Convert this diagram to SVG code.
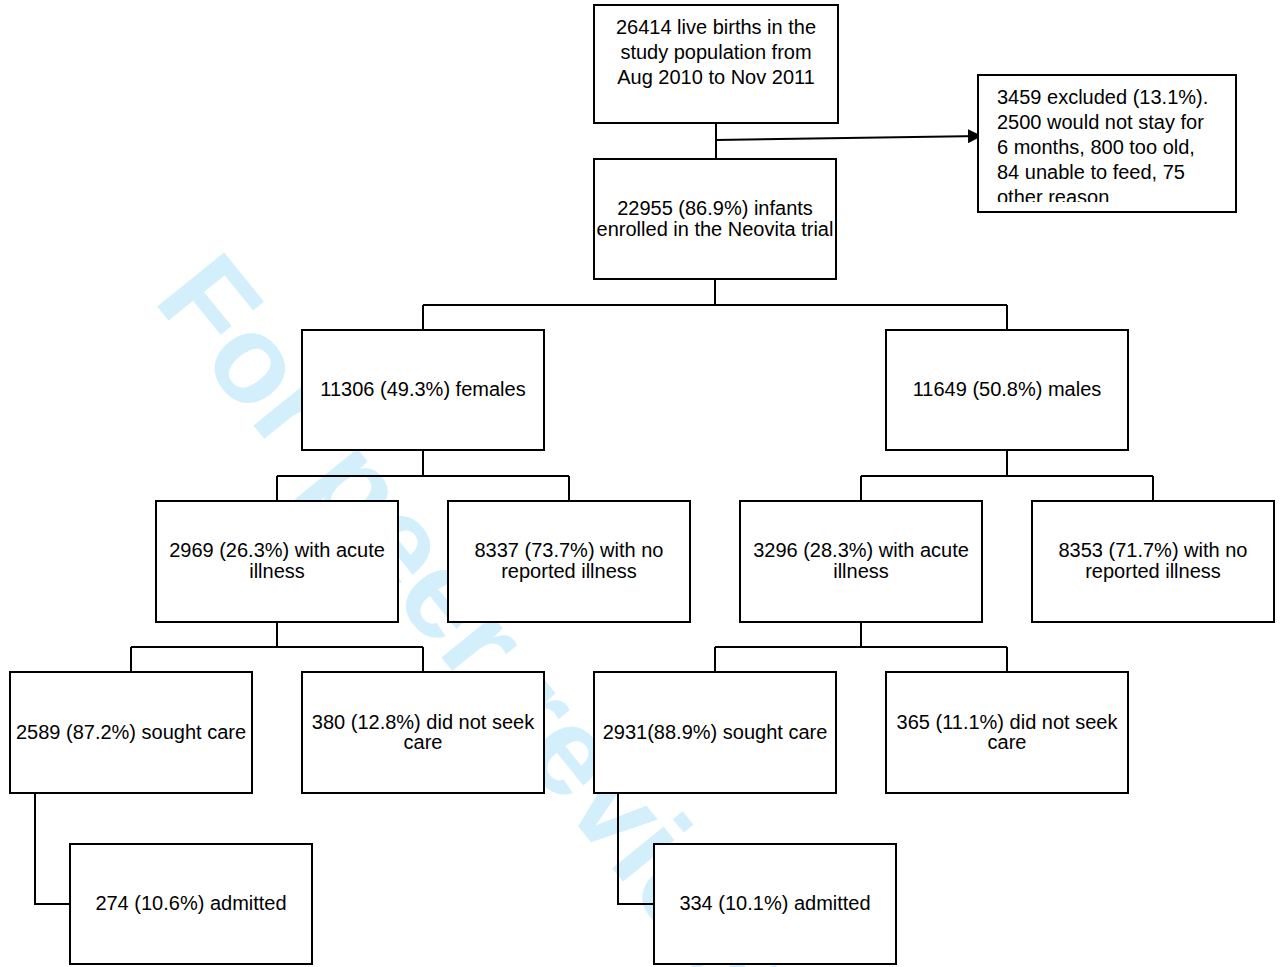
<svg xmlns="http://www.w3.org/2000/svg" width="1282" height="967" viewBox="0 0 1282 967">
<style>
.box{fill:#fff;stroke:#000;stroke-width:2}
.t{font-family:"Liberation Sans",Arial,sans-serif;font-size:20px;fill:#000;text-anchor:middle}
.tl{font-family:"Liberation Sans",Arial,sans-serif;font-size:20px;fill:#000}
.c{fill:none;stroke:#000;stroke-width:2}
.wm{font-family:"Liberation Sans",Arial,sans-serif;font-weight:bold;font-size:125px;fill:#d4effc}
</style>
<defs>
<marker id="arr" markerWidth="14" markerHeight="14" refX="13" refY="7" orient="auto" markerUnits="userSpaceOnUse">
<path d="M0,0 L14,7 L0,14 Z" fill="#000"/>
</marker>
<clipPath id="exclClip"><rect x="979" y="76" width="256" height="126"/></clipPath>
</defs>
<rect width="1282" height="967" fill="#fff"/>
<text class="wm" transform="translate(152,300) rotate(51)">For peer review only</text>
<g id="connectors">
<path class="c" d="M716,123 V159"/>
<path class="c" d="M716,140 L981,136" marker-end="url(#arr)"/>
<path class="c" d="M715,279 V305 M423,305 H1007 M423,305 V330 M1007,305 V330"/>
<path class="c" d="M423,450 V476 M277,476 H569 M277,476 V501 M569,476 V501"/>
<path class="c" d="M1007,450 V476 M861,476 H1153 M861,476 V501 M1153,476 V501"/>
<path class="c" d="M277,622 V647 M131,647 H423 M131,647 V672 M423,647 V672"/>
<path class="c" d="M861,622 V647 M715,647 H1007 M715,647 V672 M1007,647 V672"/>
<path class="c" d="M35,793 V904 H70"/>
<path class="c" d="M618,793 V904 H654"/>
</g>
<g id="n-births"><rect class="box" x="594" y="5" width="244" height="118"/>
<text class="t" x="716" y="34">26414 live births in the</text>
<text class="t" x="716" y="59">study population from</text>
<text class="t" x="716" y="84">Aug 2010 to Nov 2011</text></g>
<g id="n-excluded"><rect class="box" x="978" y="75" width="258" height="137"/>
<g clip-path="url(#exclClip)">
<text class="tl" x="997" y="104">3459 excluded (13.1%).</text>
<text class="tl" x="997" y="129">2500 would not stay for</text>
<text class="tl" x="997" y="154">6 months, 800 too old,</text>
<text class="tl" x="997" y="179">84 unable to feed, 75</text>
<text class="tl" x="997" y="204">other reason</text></g></g>
<g id="n-enrolled"><rect class="box" x="594" y="159" width="242" height="120"/>
<text class="t" x="715" y="215">22955 (86.9%) infants</text>
<text class="t" x="715" y="236">enrolled in the Neovita trial</text></g>
<g id="n-females"><rect class="box" x="302" y="330" width="242" height="120"/>
<text class="t" x="423" y="396">11306 (49.3%) females</text></g>
<g id="n-males"><rect class="box" x="886" y="330" width="242" height="120"/>
<text class="t" x="1007" y="396">11649 (50.8%) males</text></g>
<g id="n-f-acute"><rect class="box" x="156" y="501" width="242" height="121"/>
<text class="t" x="277" y="557">2969 (26.3%) with acute</text>
<text class="t" x="277" y="578">illness</text></g>
<g id="n-f-none"><rect class="box" x="448" y="501" width="242" height="121"/>
<text class="t" x="569" y="557">8337 (73.7%) with no</text>
<text class="t" x="569" y="578">reported illness</text></g>
<g id="n-m-acute"><rect class="box" x="740" y="501" width="242" height="121"/>
<text class="t" x="861" y="557">3296 (28.3%) with acute</text>
<text class="t" x="861" y="578">illness</text></g>
<g id="n-m-none"><rect class="box" x="1032" y="501" width="242" height="121"/>
<text class="t" x="1153" y="557">8353 (71.7%) with no</text>
<text class="t" x="1153" y="578">reported illness</text></g>
<g id="n-f-sought"><rect class="box" x="10" y="672" width="242" height="121"/>
<text class="t" x="131" y="739">2589 (87.2%) sought care</text></g>
<g id="n-f-noseek"><rect class="box" x="302" y="672" width="242" height="121"/>
<text class="t" x="423" y="729">380 (12.8%) did not seek</text>
<text class="t" x="423" y="749">care</text></g>
<g id="n-m-sought"><rect class="box" x="594" y="672" width="242" height="121"/>
<text class="t" x="715" y="739">2931(88.9%) sought care</text></g>
<g id="n-m-noseek"><rect class="box" x="886" y="672" width="242" height="121"/>
<text class="t" x="1007" y="729">365 (11.1%) did not seek</text>
<text class="t" x="1007" y="749">care</text></g>
<g id="n-f-admitted"><rect class="box" x="70" y="844" width="242" height="120"/>
<text class="t" x="191" y="910">274 (10.6%) admitted</text></g>
<g id="n-m-admitted"><rect class="box" x="654" y="844" width="242" height="120"/>
<text class="t" x="775" y="910">334 (10.1%) admitted</text></g>
</svg>
